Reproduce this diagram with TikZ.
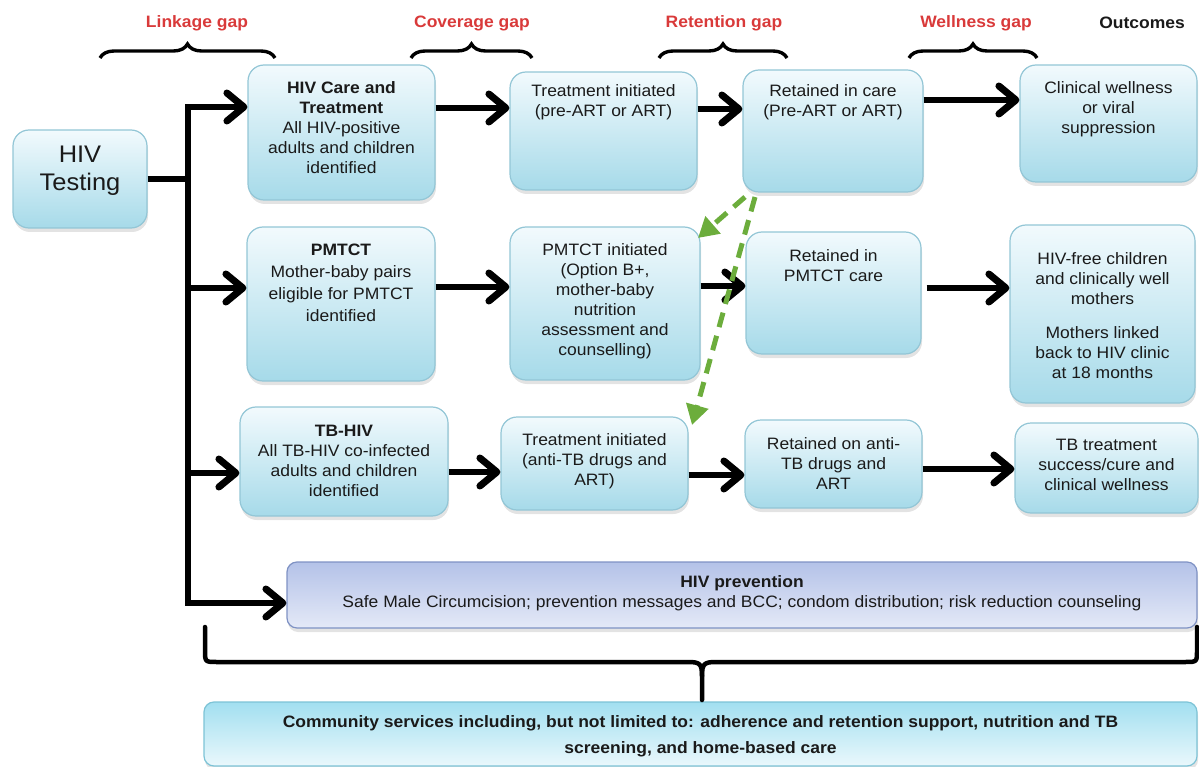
\documentclass[tikz,border=0pt]{standalone}
\usepackage{fontspec}
\setmainfont{Liberation Sans}[FakeStretch=1.06]
\usetikzlibrary{arrows.meta,decorations.pathreplacing,shadows}
\definecolor{boxtop}{HTML}{F2FAFD}
\definecolor{boxbot}{HTML}{A6DAE9}
\definecolor{boxline}{HTML}{93C6D6}
\definecolor{prevtop}{HTML}{B4C2E8}
\definecolor{prevbot}{HTML}{E4E9F7}
\definecolor{prevline}{HTML}{7F92C4}
\definecolor{commtop}{HTML}{A2DFF0}
\definecolor{commbot}{HTML}{EAF8FC}
\definecolor{commline}{HTML}{7DC3D6}
\definecolor{gapred}{HTML}{D93A3A}
\definecolor{dashgreen}{HTML}{6CAD3C}
\definecolor{ink}{HTML}{1A1A1A}
\begin{document}
\begin{tikzpicture}[x=1pt,y=-1pt,
  box/.style={draw=boxline,line width=1.2pt,rounded corners=16pt,top color=boxtop,bottom color=boxbot,inner sep=0pt,
    drop shadow={shadow xshift=1pt,shadow yshift=-4pt,opacity=0.22}},
  prevbox/.style={box,draw=prevline,top color=prevtop,bottom color=prevbot,rounded corners=10pt},
  commbox/.style={box,draw=commline,top color=commtop,bottom color=commbot,rounded corners=10pt},
  body/.style={align=center,anchor=north,inner sep=0pt,text=ink,font=\fontsize{16.5}{20}\selectfont},
  gaplabel/.style={font=\bfseries\fontsize{16.5}{20}\selectfont,text=gapred,inner sep=0pt},
  gapbrace/.style={draw=black,line width=3.4pt,decorate,decoration={brace,amplitude=14pt}},
  arr/.style={draw=black,line width=5.5pt,line join=miter,-{Straight Barb[length=17pt,width=28pt,line width=7pt,round]}},
  plainline/.style={draw=black,line width=5.5pt},
  greenarr/.style={draw=dashgreen,line width=5pt,dash pattern=on 15pt off 9pt,-{Triangle[length=20pt,width=22pt]}},
  bigbrace/.style={draw=black,line width=4.5pt,line cap=round,line join=round}
]
\useasboundingbox (0,0) rectangle (1199,767);

% gap labels and braces
\node[gaplabel] (lgap) at (197,23) {Linkage gap};
\node[gaplabel] (cgap) at (472,23) {Coverage gap};
\node[gaplabel] (rgap) at (724,23) {Retention gap};
\node[gaplabel] (wgap) at (976,23) {Wellness gap};
\node[gaplabel,text=ink] (outc) at (1142,23) {Outcomes};
\draw[gapbrace] (100,58) -- (275,58);
\draw[gapbrace] (411,58) -- (532,58);
\draw[gapbrace] (659,58) -- (787,58);
\draw[gapbrace] (909,58) -- (1037,58);

% boxes
\node[box,minimum width=134pt,minimum height=98pt] (test) at (80,179) {};
\node[box,minimum width=187pt,minimum height=135pt] (care) at (341.5,132.5) {};
\node[box,minimum width=187pt,minimum height=118pt] (tinit) at (603.5,131) {};
\node[box,minimum width=180pt,minimum height=122pt] (ret) at (833,131) {};
\node[box,minimum width=177pt,minimum height=117pt] (clin) at (1108.5,123.5) {};
\node[box,minimum width=188pt,minimum height=154pt] (pm) at (341,304) {};
\node[box,minimum width=190pt,minimum height=153pt] (pminit) at (605,303.5) {};
\node[box,minimum width=175pt,minimum height=122pt] (pmret) at (833.5,293) {};
\node[box,minimum width=185pt,minimum height=178pt] (free) at (1102.5,314) {};
\node[box,minimum width=208pt,minimum height=109pt] (tb) at (344,461.5) {};
\node[box,minimum width=187pt,minimum height=93pt] (tbinit) at (594.5,463.5) {};
\node[box,minimum width=177pt,minimum height=88pt] (tbret) at (833.5,464) {};
\node[box,minimum width=183pt,minimum height=90pt] (tbout) at (1106.5,468) {};
\node[prevbox,minimum width=910pt,minimum height=66pt] (prev) at (742,595) {};
\node[commbox,minimum width=993pt,minimum height=64pt] (comm) at (700.5,734) {};

% texts
\node[body,font=\fontsize{24}{28}\selectfont] (testtxt) at (80,146) {HIV\\Testing};
\node[body] (caretxt) at (341.5,81.5) {\textbf{HIV Care and}\\\textbf{Treatment}\\All HIV-positive\\adults and children\\identified};
\node[body] (tinittxt) at (603.5,84.5) {Treatment initiated\\(pre-ART or ART)};
\node[body] (rettxt) at (833,84.5) {Retained in care\\(Pre-ART or ART)};
\node[body] (clintxt) at (1108.5,81.5) {Clinical wellness\\or viral\\suppression};
\node[body,font=\fontsize{16.5}{22}\selectfont] (pmtxt) at (341,243.5) {\textbf{PMTCT}\\Mother-baby pairs\\eligible for PMTCT\\identified};
\node[body] (pminittxt) at (605,243.5) {PMTCT initiated\\(Option B+,\\mother-baby\\nutrition\\assessment and\\counselling)};
\node[body] (pmrettxt) at (833.5,249.5) {Retained in\\PMTCT care};
\node[body] (freetxta) at (1102.5,252.5) {HIV-free children\\and clinically well\\mothers};
\node[body] (freetxtb) at (1102.5,326.5) {Mothers linked\\back to HIV clinic\\at 18 months};
\node[body] (tbtxt) at (344,424.5) {\textbf{TB-HIV}\\All TB-HIV co-infected\\adults and children\\identified};
\node[body] (tbinittxt) at (594.5,433.5) {Treatment initiated\\(anti-TB drugs and\\ART)};
\node[body] (tbrettxt) at (833.5,437.5) {Retained on anti-\\TB drugs and\\ART};
\node[body] (tbouttxt) at (1106.5,438.5) {TB treatment\\success/cure and\\clinical wellness};
\node[body] (prevtxt) at (742,575.5) {\textbf{HIV prevention}\\Safe Male Circumcision; prevention messages and BCC; condom distribution; risk reduction counseling};
\node[body,font=\bfseries\fontsize{16.5}{26}\selectfont] (commtxt) at (700.5,715.5) {Community services including, but not limited to: adherence and retention support, nutrition and TB\\screening, and home-based care};

% trunk and branches
\coordinate (j0) at (188,179);
\coordinate (j1) at (188,107);
\coordinate (j2) at (188,288);
\coordinate (j3) at (188,473);
\coordinate (j4) at (188,603);
\draw[plainline] (test.east |- j0) -- (j0);
\draw[arr] (j4) -- (j1) -- (care.west |- j1);
\draw[arr] (j1) -- (j4) -- (prev.west |- j4);
\draw[arr] (j2) -- (pm.west |- j2);
\draw[arr] (j3) -- (tb.west |- j3);

% row connectors
\draw[arr] (care.east |- 0,108) -- (tinit.west |- 0,108);
\draw[arr] (tinit.east |- 0,109) -- (ret.west |- 0,109);
\draw[arr] (ret.east |- 0,100) -- (clin.west |- 0,100);
\draw[arr] (pm.east |- 0,287) -- (pminit.west |- 0,287);
\draw[arr] (pminit.east |- 0,286) -- (pmret.west |- 0,286);
\draw[arr] ([xshift=5pt]pmret.east |- 0,288) -- (free.west |- 0,288);
\draw[arr] (tb.east |- 0,472) -- (tbinit.west |- 0,472);
\draw[arr] (tbinit.east |- 0,475) -- (tbret.west |- 0,475);
\draw[arr] (tbret.east |- 0,469) -- (tbout.west |- 0,469);

% green dashed arrows
\coordinate (g0) at (745,197);
\coordinate (g1) at (755,197);
\coordinate (gt1) at (698,238);
\coordinate (gt2) at (692,425);
\draw[greenarr] (g0) -- (gt1);
\draw[greenarr] (g1) -- (gt2);

% big bottom brace
\coordinate (bl) at (205,627);
\coordinate (br) at (1197,627);
\coordinate (cusp) at (702,700);
\draw[bigbrace] (bl) -- (205,650) .. controls (205,662) and (205,662) .. (217,662) -- (688,662)
  .. controls (700,662) and (702,664) .. (702,676) -- (cusp);
\draw[bigbrace] (702,676) .. controls (702,664) and (704,662) .. (716,662) -- (1185,662)
  .. controls (1197,662) and (1197,662) .. (1197,650) -- (br);
\end{tikzpicture}
\end{document}
